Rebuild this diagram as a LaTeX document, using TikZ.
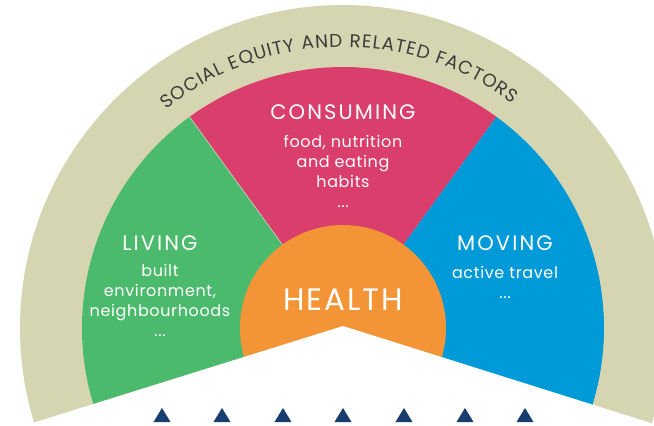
\documentclass[tikz,border=0pt]{standalone}
\usepackage{fontspec}
\setmainfont{Poppins}
\usetikzlibrary{decorations.text}
\definecolor{ringbeige}{HTML}{D6D5B2}
\definecolor{livegreen}{HTML}{4CBA6C}
\definecolor{eatpink}{HTML}{DA3E6C}
\definecolor{moveblue}{HTML}{009AD8}
\definecolor{healthorange}{HTML}{F39436}
\definecolor{navy}{HTML}{173E6E}
\definecolor{ringtext}{HTML}{3C3C3C}

\begin{document}
\begin{tikzpicture}[x=1pt, y=1pt,
	title/.style={text=white, font=\fontsize{21}{24}\selectfont\addfontfeatures{LetterSpace=10}},
	body/.style={text=white, align=center, inner sep=0pt, font=\fontsize{16}{20}\selectfont\addfontfeatures{LetterSpace=4}}]
	\useasboundingbox (-343,-98) rectangle (311,328);
	\clip (-343,-98) rectangle (311,328);
	\fill[ringbeige] (0,0) circle (323);
	\fill[livegreen] (0,0) -- (126:261) arc (126:200:261) -- cycle;
	\fill[eatpink] (0,0) -- (54:261) arc (54:126:261) -- cycle;
	\fill[moveblue] (0,0) -- (-20:261) arc (-20:54:261) -- cycle;
	\draw[white!70!livegreen, line width=0.5pt] (0,0) -- (126:261);
	\fill[healthorange] (0,0) circle (103);
	\fill[white] (0,2) -- (-400,-123) -- (-400,-200) -- (400,-200) -- (400,-124) -- cycle;
	% ring text
	\path[decorate, decoration={text along path, text align=fit to path,
	  text={|\fontsize{18.5}{18.5}\selectfont\color{ringtext}|SOCIAL EQUITY AND RELATED FACTORS}}]
	  (129:281) arc (129:53:281);
	% sectors
	\node[title] (consuming) at (0,216) {CONSUMING};
	\node[body, anchor=north] (consumingtxt) at (0,193) {food, nutrition\\and eating\\habits\\...};
	\node[title] (living) at (-183,85) {LIVING};
	\node[body, anchor=north] (livingtxt) at (-183,64) {built\\environment,\\neighbourhoods\\...};
	\node[title] (moving) at (162,85) {MOVING};
	\node[body, anchor=north] (movingtxt) at (162,62) {active travel\\...};
	\node[text=white, font=\fontsize{31}{33}\selectfont\addfontfeatures{LetterSpace=6}] (health) at (0,28) {HEALTH};
	% markers
	\foreach \x in {-181,-121,-60,0,61,122,182}
	  \fill[navy] (\x-8.5,-94) -- (\x+8.5,-94) -- (\x,-80) -- cycle;
\end{tikzpicture}
\end{document}
